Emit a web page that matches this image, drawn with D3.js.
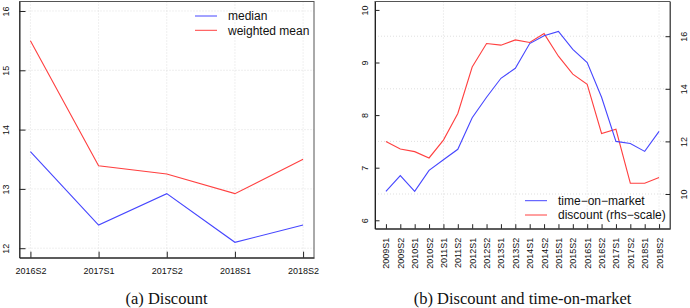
<!DOCTYPE html>
<html>
<head>
<meta charset="utf-8">
<script src="https://cdn.jsdelivr.net/npm/d3@7"></script>
<style>
    body { margin: 0; background: #fff; }
    svg { display: block; }
    .tick text { font-family: "Liberation Sans", Arial, sans-serif; font-size: 9px; fill: #111; }
    .legend text { font-family: "Liberation Sans", Arial, sans-serif; font-size: 12px; fill: #111; }
    .caption { font-family: "Liberation Serif", "DejaVu Serif", serif; font-size: 16.5px; fill: #111; }
    .grid line { stroke: #d8d8d8; stroke-dasharray: 1,2; stroke-width: 0.8; }
</style>
</head>
<body>
<div id="chart"></div>
<script>
// panel (a): discount
const periodsA = ['2016S2', '2017S1', '2017S2', '2018S1', '2018S2'];
const medianA = [13.63, 12.39, 12.92, 12.10, 12.39];
const weightedMeanA = [15.50, 13.39, 13.25, 12.92, 13.50];
const yTicksA = [12, 13, 14, 15, 16];

// panel (b): discount and time-on-market
const periodsB = ['2009S1', '2009S2', '2010S1', '2010S2', '2011S1', '2011S2', '2012S1', '2012S2',
    '2013S1', '2013S2', '2014S1', '2014S2', '2015S1', '2015S2', '2016S1', '2016S2',
    '2017S1', '2017S2', '2018S1', '2018S2'];
const timeOnMarket = [6.55, 6.85, 6.55, 6.95, 7.15, 7.35, 7.95, 8.34, 8.70, 8.89,
    9.36, 9.51, 9.59, 9.25, 9.00, 8.34, 7.50, 7.46, 7.31, 7.69];
const discountB = [12.00, 11.71, 11.61, 11.37, 12.05, 13.06, 14.83, 15.72, 15.66, 15.86,
    15.76, 16.10, 15.24, 14.56, 14.17, 12.30, 12.46, 10.41, 10.41, 10.63];
const yTicksBLeft = [6, 7, 8, 9, 10];
const yTicksBRight = [10, 12, 14, 16];
const gridXB = [4, 9, 14, 19];

const BLUE = '#4646ff';
const RED = '#ff4040';
const fmt = d3.format('d');

const svg = d3.select('#chart').append('svg')
    .attr('width', 690)
    .attr('height', 308);

// R-style 4% axis extension
function ext(lo, hi) {
    const d = (hi - lo) * 0.04;
    return [lo - d, hi + d];
}

function drawLine(g, x, y, values, color) {
    g.append('path')
        .datum(values)
        .attr('fill', 'none')
        .attr('stroke', color)
        .attr('stroke-width', 1.1)
        .attr('d', d3.line().x((d, i) => x(i)).y(d => y(d)));
}

function drawBox(g, x0, x1, y0, y1) {
    g.append('rect')
        .attr('x', x0).attr('y', y0)
        .attr('width', x1 - x0).attr('height', y1 - y0)
        .attr('fill', 'none')
        .attr('stroke', '#555')
        .attr('stroke-width', 1);
}

function drawLegend(g, x, y, labels, colors) {
    const leg = g.append('g').attr('class', 'legend');
    labels.forEach(function(label, i) {
        leg.append('line')
            .attr('x1', x).attr('x2', x + 22)
            .attr('y1', y + i * 14.3).attr('y2', y + i * 14.3)
            .attr('stroke', colors[i]).attr('stroke-width', 1);
        leg.append('text')
            .attr('x', x + 33)
            .attr('y', y + i * 14.3)
            .attr('dy', '0.35em')
            .text(label);
    });
}

// rotate vertical tick labels like R's las=0 on the y axis
function styleYLabels(axisG, dx) {
    axisG.selectAll('.tick text')
        .attr('x', null).attr('dy', null)
        .attr('text-anchor', 'middle')
        .attr('transform', 'translate(' + dx + ',0) rotate(-90)')
        .attr('y', 0)
        .attr('dominant-baseline', 'central');
}

// ---------- panel (a) ----------
(function() {
    const left = 19.5, right = 314, top = 1.5, bottom = 257.7;
    const x = d3.scaleLinear().domain(ext(0, periodsA.length - 1)).range([left, right]);
    const y = d3.scaleLinear().domain(ext(12, 16)).range([bottom, top]);
    const g = svg.append('g');

    const grid = g.append('g').attr('class', 'grid');
    grid.selectAll('.gx').data(d3.range(periodsA.length)).enter().append('line')
        .attr('x1', d => x(d)).attr('x2', d => x(d)).attr('y1', top).attr('y2', bottom);
    grid.selectAll('.gy').data(yTicksA).enter().append('line')
        .attr('x1', left).attr('x2', right).attr('y1', d => y(d)).attr('y2', d => y(d));

    drawBox(g, left, right, top, bottom);

    const xAxis = g.append('g')
        .attr('transform', 'translate(0,' + bottom + ')')
        .call(d3.axisBottom(x).tickValues(d3.range(periodsA.length))
            .tickFormat(i => periodsA[i]).tickSizeInner(-6).tickSizeOuter(0).tickPadding(10));
    xAxis.select('.domain').attr('stroke', '#222');
    xAxis.selectAll('.tick line').attr('stroke', '#222');

    const yAxis = g.append('g')
        .attr('transform', 'translate(' + left + ',0)')
        .call(d3.axisLeft(y).tickValues(yTicksA).tickFormat(fmt).tickSizeInner(-6).tickSizeOuter(0));
    yAxis.select('.domain').attr('stroke', '#222');
    yAxis.selectAll('.tick line').attr('stroke', '#222');
    styleYLabels(yAxis, -14);

    drawLine(g, x, y, weightedMeanA, RED);
    drawLine(g, x, y, medianA, BLUE);

    drawLegend(g, 195, 16, ['median', 'weighted mean'], [BLUE, RED]);

    g.append('text')
        .attr('class', 'caption')
        .attr('x', 166.5).attr('y', 304)
        .attr('text-anchor', 'middle')
        .text('(a) Discount');
})();

// ---------- panel (b) ----------
(function() {
    const left = 375, right = 670, top = 1.5, bottom = 228.7;
    const x = d3.scaleLinear().domain(ext(0, periodsB.length - 1)).range([left, right]);
    const yL = d3.scaleLinear().domain(ext(6, 10)).range([bottom, top]);
    const yR = d3.scaleLinear().domain(ext(9, 17)).range([bottom, top]);
    const g = svg.append('g');

    const grid = g.append('g').attr('class', 'grid');
    grid.selectAll('.gx').data(gridXB).enter().append('line')
        .attr('x1', d => x(d)).attr('x2', d => x(d)).attr('y1', top).attr('y2', bottom);
    grid.selectAll('.gy').data(yTicksBRight).enter().append('line')
        .attr('x1', left).attr('x2', right).attr('y1', d => yR(d)).attr('y2', d => yR(d));

    drawBox(g, left, right, top, bottom);

    const xAxis = g.append('g')
        .attr('transform', 'translate(0,' + bottom + ')')
        .call(d3.axisBottom(x).tickValues(d3.range(periodsB.length))
            .tickFormat(i => periodsB[i]).tickSizeInner(-4.5).tickSizeOuter(0));
    xAxis.select('.domain').attr('stroke', '#222');
    xAxis.selectAll('.tick line').attr('stroke', '#222');
    xAxis.selectAll('.tick text')
        .attr('y', 0).attr('dy', null)
        .attr('text-anchor', 'end')
        .attr('dominant-baseline', 'central')
        .attr('transform', 'translate(0,9) rotate(-90)');

    const yAxisL = g.append('g')
        .attr('transform', 'translate(' + left + ',0)')
        .call(d3.axisLeft(yL).tickValues(yTicksBLeft).tickFormat(fmt).tickSizeInner(-4.5).tickSizeOuter(0));
    yAxisL.select('.domain').attr('stroke', '#222');
    yAxisL.selectAll('.tick line').attr('stroke', '#222');
    styleYLabels(yAxisL, -10);

    const yAxisR = g.append('g')
        .attr('transform', 'translate(' + right + ',0)')
        .call(d3.axisRight(yR).tickValues(yTicksBRight).tickFormat(fmt).tickSizeInner(-4.5).tickSizeOuter(0));
    yAxisR.select('.domain').attr('stroke', '#555');
    yAxisR.selectAll('.tick line').attr('stroke', '#222');
    styleYLabels(yAxisR, 14);

    drawLine(g, x, yR, discountB, RED);
    drawLine(g, x, yL, timeOnMarket, BLUE);

    drawLegend(g, 525, 200.7, ['time\u2212on\u2212market', 'discount (rhs\u2212scale)'], [BLUE, RED]);

    g.append('text')
        .attr('class', 'caption')
        .attr('x', 522.5).attr('y', 304)
        .attr('text-anchor', 'middle')
        .text('(b) Discount and time-on-market');
})();
</script>
</body>
</html>
